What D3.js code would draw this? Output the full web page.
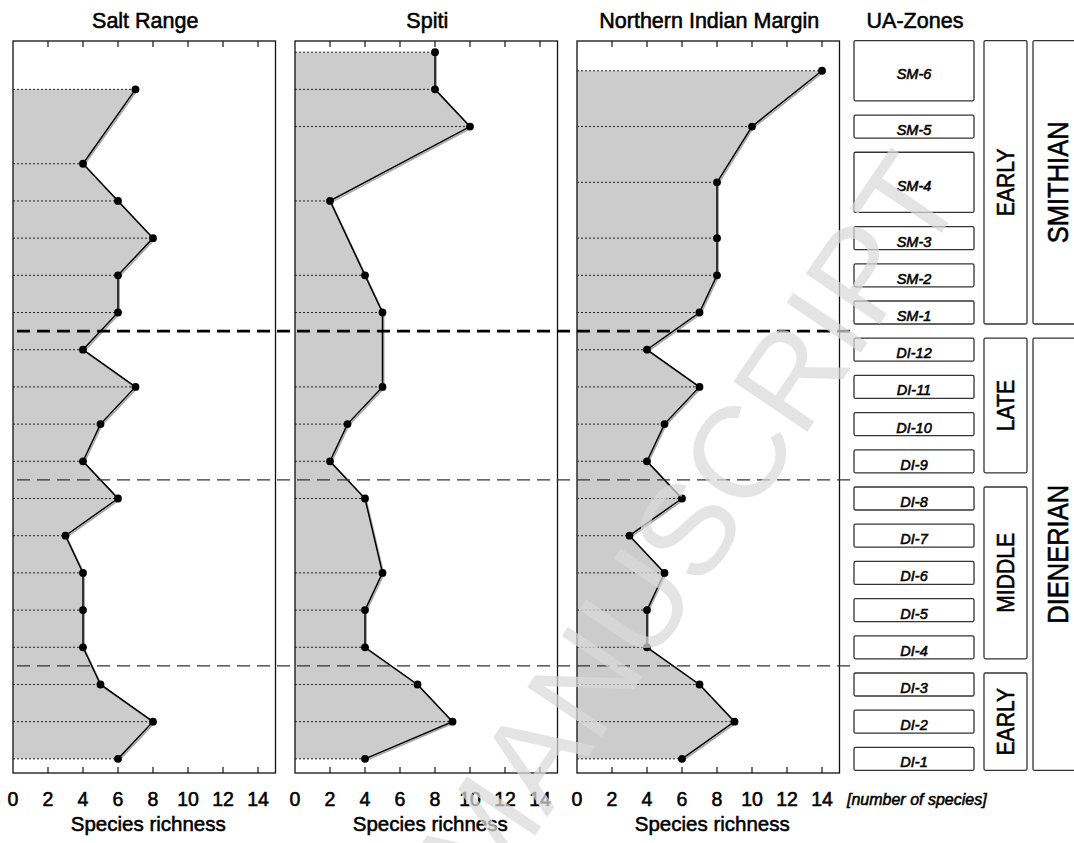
<!DOCTYPE html>
<html><head><meta charset="utf-8">
<script src="https://cdn.jsdelivr.net/npm/d3@7"></script>
<style>body{margin:0;background:#fff} text{font-family:"Liberation Sans",Arial,sans-serif} text.b{stroke:#000;stroke-width:0.55px;paint-order:stroke}</style>
</head><body><svg id="c" width="1074" height="843"></svg>
<script>
// ---------- data ----------
const panelNames = ["Salt Range", "Spiti", "Northern Indian Margin"];
const saltLevels  = [18,16,15,14,13,12,11,10,9,8,7,6,5,4,3,2,1,0];
const saltValues  = [7,4,6,8,6,6,4,7,5,4,6,3,4,4,4,5,8,6];
const spitiLevels = [19,18,17,15,13,12,10,9,8,7,5,4,3,2,1,0];
const spitiValues = [8,8,10,2,4,5,5,3,2,4,5,4,4,7,9,4];
const nimLevels   = [18.5,17,15.5,14,13,12,11,10,9,8,7,6,5,4,3,2,1,0];
const nimValues   = [14,10,8,8,8,7,4,7,5,4,6,3,5,4,4,7,9,6];
const xTicks = [0,2,4,6,8,10,12,14];
const zoneNames = ["DI-1","DI-2","DI-3","DI-4","DI-5","DI-6","DI-7","DI-8","DI-9","DI-10","DI-11","DI-12",
                   "SM-1","SM-2","SM-3","SM-4","SM-5","SM-6"];
const zoneFrom = [0,1,2,3,4,5,6,7,8,9,10,11,12,13,14,15,17,18];
const zoneTo   = [0,1,2,3,4,5,6,7,8,9,10,11,12,13,14,16,17,19];
const substageNames = ["EARLY","MIDDLE","LATE","EARLY"];
const substageFirstZone = [0,3,8,12];
const substageLastZone  = [2,7,11,17];
const stageNames = ["DIENERIAN","SMITHIAN"];
const stageFirstZone = [0,12];
const stageLastZone  = [11,17];
const boundaryLevels = [2.5, 7.5, 11.5];
const boundaryMajor  = [false, false, true];

const series = [
  {levels: saltLevels, values: saltValues},
  {levels: spitiLevels, values: spitiValues},
  {levels: nimLevels, values: nimValues}
];

// ---------- layout ----------
const svg = d3.select("#c");
const plotTop = 41, plotBottom = 773;
const panelLeft = [13, 295, 577];
const panelW = 262.5;
const y = d3.scaleLinear().domain([-0.38, 19.3]).range([plotBottom, plotTop]);

series.forEach((s, i) => {
  const x = d3.scaleLinear().domain([0, 15]).range([panelLeft[i], panelLeft[i] + panelW]);
  const g = svg.append("g");
  const pts = s.levels.map((l, k) => [x(s.values[k]), y(l)]);
  const poly = [[x(0), y(s.levels[0])], ...pts, [x(0), y(s.levels[s.levels.length - 1])]];
  g.append("path").attr("d", d3.line()(poly) + "Z").attr("fill", "#cccccc");
  g.selectAll("line.dot").data(pts).join("line")
    .attr("x1", x(0)).attr("x2", d => d[0]).attr("y1", d => d[1]).attr("y2", d => d[1])
    .attr("stroke", "#222").attr("stroke-width", 1).attr("stroke-dasharray", "2,2");
  g.append("path").attr("d", d3.line()(pts)).attr("fill", "none")
    .attr("stroke", "#a8a8a8").attr("stroke-width", 1.6).attr("transform", "translate(1.2,1.4)");
  g.append("path").attr("d", d3.line()(pts)).attr("fill", "none")
    .attr("stroke", "#000").attr("stroke-width", 1.5);
  g.selectAll("circle").data(pts).join("circle")
    .attr("cx", d => d[0]).attr("cy", d => d[1]).attr("r", 3.9).attr("fill", "#000");
  g.append("rect").attr("x", x(0)).attr("y", plotTop).attr("width", panelW).attr("height", plotBottom - plotTop)
    .attr("fill", "none").attr("stroke", "#111").attr("stroke-width", 1.3);
  const inner = xTicks.filter(t => t > 0);
  g.selectAll("line.tt").data(inner).join("line")
    .attr("x1", d => x(d)).attr("x2", d => x(d)).attr("y1", plotTop).attr("y2", plotTop + 6)
    .attr("stroke", "#111").attr("stroke-width", 1.2);
  g.selectAll("line.tb").data(inner).join("line")
    .attr("x1", d => x(d)).attr("x2", d => x(d)).attr("y1", plotBottom).attr("y2", plotBottom - 6)
    .attr("stroke", "#111").attr("stroke-width", 1.2);
  g.selectAll("text.tl").data(xTicks).join("text").attr("class", "b")
    .attr("x", d => x(d)).attr("y", 806).attr("text-anchor", "middle")
    .attr("font-size", 19.5).attr("fill", "#000").text(d => d);
  g.append("text").attr("class", "b").attr("x", panelLeft[i] + panelW / 2 + 4).attr("y", 831).attr("text-anchor", "middle")
    .attr("font-size", 20.5).text("Species richness");
  g.append("text").attr("class", "b").attr("x", panelLeft[i] + panelW / 2 + 1).attr("y", 28).attr("text-anchor", "middle")
    .attr("font-size", 21.5).text(panelNames[i]);
});

boundaryLevels.forEach((l, i) => {
  svg.append("line").attr("x1", 17).attr("x2", 853).attr("y1", y(l)).attr("y2", y(l))
    .attr("stroke", boundaryMajor[i] ? "#000" : "#333")
    .attr("stroke-width", boundaryMajor[i] ? 2.8 : 1.4)
    .attr("stroke-dasharray", "13,7");
});

const zx0 = 854, zx1 = 974;
const zTop = i => y(zoneTo[i]) - 11.5;
const zBot = i => y(zoneFrom[i]) + 11.5;
const zg = svg.append("g");
zoneNames.forEach((n, i) => {
  zg.append("rect").attr("x", zx0).attr("y", zTop(i)).attr("width", zx1 - zx0).attr("height", zBot(i) - zTop(i))
    .attr("rx", 1.5).attr("fill", "#fff").attr("stroke", "#333").attr("stroke-width", 1.3);
  zg.append("text").attr("class", "b").attr("x", (zx0 + zx1) / 2).attr("y", (zTop(i) + zBot(i)) / 2 + 3.5)
    .attr("dominant-baseline", "central").attr("text-anchor", "middle")
    .attr("font-size", 14.5).attr("font-style", "italic").text(n);
});
zg.append("text").attr("class", "b").attr("x", 915).attr("y", 28).attr("text-anchor", "middle").attr("font-size", 21.5).text("UA-Zones");

const px0 = 984, px1 = 1027;
substageNames.forEach((n, i) => {
  const t = zTop(substageLastZone[i]), b = zBot(substageFirstZone[i]);
  zg.append("rect").attr("x", px0).attr("y", t).attr("width", px1 - px0).attr("height", b - t)
    .attr("rx", 1.5).attr("fill", "#fff").attr("stroke", "#333").attr("stroke-width", 1.3);
  const cx = (px0 + px1) / 2, cy = (t + b) / 2;
  zg.append("text").attr("class", "b").attr("transform", `translate(${cx + 8.5},${cy}) rotate(-90) scale(0.88,1)`)
    .attr("text-anchor", "middle").attr("font-size", 24).text(n);
});
const sx0 = 1033, sx1 = 1110;
stageNames.forEach((n, i) => {
  const t = zTop(stageLastZone[i]), b = zBot(stageFirstZone[i]);
  zg.append("rect").attr("x", sx0).attr("y", t).attr("width", sx1 - sx0).attr("height", b - t)
    .attr("rx", 1.5).attr("fill", "#fff").attr("stroke", "#333").attr("stroke-width", 1.3);
  zg.append("text").attr("class", "b").attr("transform", `translate(${1068},${(t + b) / 2}) rotate(-90) scale(0.85,1)`)
    .attr("text-anchor", "middle").attr("font-size", 30).text(n);
});
svg.append("text").attr("class", "b").attr("x", 847).attr("y", 805).attr("font-size", 16).attr("font-style", "italic")
  .attr("stroke-width", 0.4).text("[number of species]");

svg.append("text").attr("transform", "translate(967,195) rotate(-56)")
  .attr("text-anchor", "end").attr("font-size", 130).attr("fill", "#dadada").attr("fill-opacity", 0.72)
  .text("ACCEPTED MANUSCRIPT");
</script></body></html>
